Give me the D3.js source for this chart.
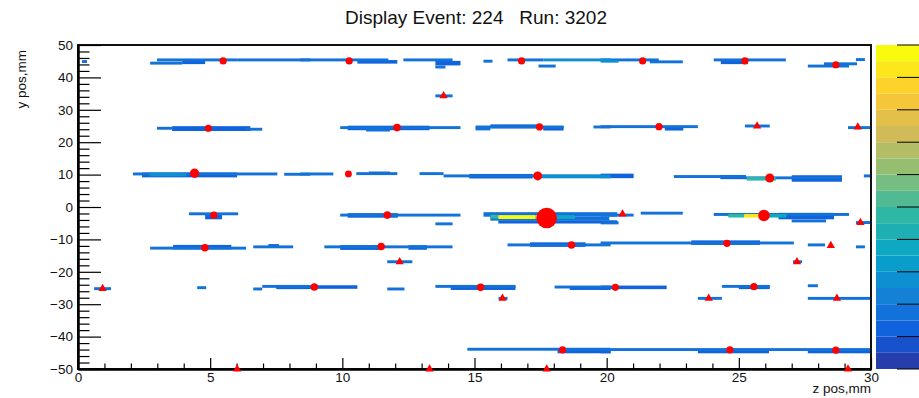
<!DOCTYPE html>
<html>
<head>
<meta charset="utf-8">
<script src="https://cdn.jsdelivr.net/npm/d3@7"></script>
<style>
  html, body { margin: 0; padding: 0; background: #fff; }
  svg { display: block; font-family: "Liberation Sans", Arial, Helvetica, sans-serif; }
</style>
</head>
<body>
<svg id="display" width="919" height="398"></svg>
<script>
// ---- Event content -------------------------------------------------------
// Strip hits per detector row: [zStart mm, zEnd mm, y mm, height mm, amplitude]
const stripsY45 = [
  [0.15, 0.34, 44.9, 0.9, 35], [2.73, 3.94, 44.4, 0.9, 35], [2.99, 6.02, 45.4, 0.9, 35],
  [3.94, 4.81, 44.8, 1.4, 28], [6.02, 8.79, 45.4, 0.9, 35], [8.41, 11.74, 45.4, 0.9, 35],
  [10.57, 12.08, 44.8, 1.1, 28], [12.31, 14.17, 45.4, 0.9, 35], [13.52, 14.47, 44.4, 1.4, 28],
  [13.52, 13.9, 43.2, 0.9, 35], [15.34, 15.68, 45.0, 0.9, 35], [16.25, 17.6, 45.4, 0.9, 35],
  [17.6, 20.15, 45.4, 0.9, 55], [17.42, 18.07, 43.5, 0.9, 35], [19.77, 21.97, 45.4, 0.9, 35],
  [19.77, 20.45, 45.0, 0.9, 55], [21.63, 22.88, 44.8, 0.9, 35], [24.05, 26.78, 45.4, 0.9, 35],
  [24.32, 25.34, 44.8, 1.4, 28], [27.61, 29.17, 43.5, 0.9, 35], [28.22, 29.47, 44.2, 0.9, 35],
  [29.43, 29.77, 45.5, 0.9, 35]
];
const stripsY34 = [
  [13.52, 14.17, 34.3, 0.9, 35]
];
const stripsY24 = [
  [2.99, 3.56, 24.3, 0.9, 35], [3.56, 6.52, 24.2, 1.5, 28], [6.33, 6.97, 24.0, 0.9, 35],
  [9.92, 14.47, 24.5, 0.9, 35], [10.2, 13.3, 24.4, 1.4, 28], [10.9, 11.8, 23.8, 1.0, 35],
  [15.04, 18.37, 24.7, 0.9, 35], [15.04, 15.6, 24.1, 0.9, 35], [15.6, 17.5, 24.9, 1.2, 28],
  [17.6, 18.37, 24.3, 1.4, 28], [19.5, 20.15, 24.7, 0.9, 35], [19.77, 23.45, 24.8, 0.9, 35],
  [22.2, 22.9, 24.3, 1.4, 28], [25.23, 26.17, 25.0, 0.9, 35], [29.13, 30.0, 24.5, 0.9, 35]
];
const stripsY10 = [
  [2.08, 7.54, 10.2, 0.9, 35], [2.42, 6.02, 9.9, 1.5, 28], [2.7, 4.1, 10.0, 1.1, 55],
  [7.8, 8.79, 10.1, 0.9, 35], [8.41, 9.66, 10.2, 0.9, 35], [10.53, 12.08, 10.3, 0.9, 35],
  [11.0, 11.8, 10.5, 0.9, 28], [12.92, 13.83, 10.3, 0.9, 35], [13.83, 20.15, 9.6, 0.9, 35],
  [14.8, 17.2, 9.5, 1.4, 28], [17.5, 20.15, 9.4, 1.1, 50], [19.77, 21.02, 9.6, 1.4, 28],
  [22.54, 25.27, 9.4, 0.9, 35], [24.3, 25.27, 9.2, 1.2, 28], [25.23, 28.86, 9.0, 0.9, 35],
  [25.3, 26.4, 8.7, 1.1, 90], [27.0, 28.9, 8.8, 2.0, 28], [29.73, 30.0, 9.6, 0.9, 35]
];
const stripsYm3 = [
  [4.2, 6.06, -2.1, 0.9, 35], [4.81, 5.45, -3.1, 1.4, 28], [9.92, 14.47, -2.5, 0.9, 35],
  [10.2, 12.1, -2.6, 1.4, 28], [13.52, 14.17, -5.2, 0.9, 35], [15.34, 20.4, -2.3, 1.4, 30],
  [15.6, 20.1, -3.6, 1.2, 30], [15.9, 20.4, -4.6, 1.0, 28], [15.6, 15.9, -3.0, 1.2, 90],
  [15.9, 17.3, -3.1, 1.2, 195], [17.3, 17.6, -3.1, 1.2, 150], [17.9, 18.8, -3.1, 1.2, 75],
  [19.77, 21.02, -2.5, 0.9, 35], [19.77, 20.45, -4.9, 0.9, 35], [21.29, 22.88, -1.9, 0.9, 35],
  [24.05, 29.17, -2.3, 0.9, 35], [24.6, 25.2, -2.7, 1.1, 90], [25.2, 25.8, -2.7, 1.1, 180],
  [26.1, 26.8, -2.7, 1.1, 70], [26.5, 28.6, -2.8, 2.0, 28], [27.0, 28.3, -4.3, 0.9, 35],
  [29.43, 30.0, -4.8, 0.9, 35]
];
const stripsYm12 = [
  [2.73, 6.36, -12.7, 0.9, 35], [3.6, 5.8, -12.4, 1.4, 28], [6.63, 8.14, -12.3, 0.9, 35],
  [7.2, 7.6, -11.9, 0.9, 28], [9.32, 14.17, -12.3, 0.9, 35], [9.92, 11.4, -12.5, 1.5, 28],
  [12.5, 13.2, -12.5, 1.4, 28], [16.25, 20.15, -11.7, 0.9, 35], [17.1, 19.2, -11.6, 1.4, 28],
  [19.77, 27.08, -11.1, 0.9, 35], [23.2, 25.8, -11.0, 1.4, 28], [27.61, 28.26, -11.7, 0.9, 35],
  [29.43, 29.77, -12.3, 0.9, 35]
];
const stripsYm17 = [
  [11.7, 12.65, -16.9, 0.9, 35], [27.05, 27.39, -16.9, 0.9, 35]
];
const stripsYm25 = [
  [0.61, 1.25, -25.2, 0.9, 35], [4.51, 4.85, -24.9, 0.9, 35], [6.63, 6.97, -25.3, 0.9, 35],
  [6.97, 8.79, -24.5, 0.9, 35], [7.5, 8.79, -24.9, 0.9, 28], [8.41, 10.57, -24.7, 1.1, 28],
  [11.7, 12.35, -25.3, 0.9, 35], [13.52, 16.55, -24.5, 0.9, 35], [14.1, 16.55, -24.9, 1.4, 28],
  [18.03, 20.15, -24.7, 0.9, 35], [18.6, 20.15, -25.0, 1.2, 28], [19.77, 22.27, -24.8, 1.1, 28],
  [24.36, 26.17, -24.5, 0.9, 35], [25.0, 26.17, -24.8, 1.1, 28], [27.61, 27.99, -24.3, 0.9, 35]
];
const stripsYm28 = [
  [15.91, 16.25, -28.2, 0.9, 35], [23.45, 24.36, -28.2, 0.9, 35], [27.61, 30.0, -28.2, 0.9, 35]
];
const stripsYm44 = [
  [14.73, 20.15, -43.9, 0.9, 35], [18.14, 20.15, -44.6, 1.1, 28], [19.77, 30.0, -44.0, 0.9, 35],
  [19.77, 20.15, -44.6, 1.1, 28], [23.45, 26.14, -44.6, 1.1, 28], [27.61, 30.0, -44.6, 1.1, 28]
];

// Reconstructed clusters (red dots, size by charge)
const clusterZ = [5.49, 10.26, 16.78, 21.36, 25.23, 28.67, 4.93, 12.07, 17.46, 21.98,
                  4.41, 10.23, 17.39, 26.17, 5.14, 11.70, 17.73, 25.95, 4.80, 11.47, 18.67, 24.55,
                  8.94, 15.23, 20.33, 25.57, 18.33, 24.66, 28.67];
const clusterY = [45.1, 45.1, 45.1, 45.1, 45.1, 43.9, 24.3, 24.5, 24.7, 24.8,
                  10.4, 10.2, 9.6, 8.95, -2.5, -2.5, -3.4, -2.6, -12.6, -12.2, -11.7, -11.2,
                  -24.7, -24.8, -24.8, -24.6, -44.1, -44.1, -44.2];
const clusterQ = [1, 1, 1, 1, 1, 1, 1, 1.05, 1, 1,
                  1.3, 0.95, 1.25, 1.25, 1, 1.05, 2.85, 1.6, 1.05, 1.05, 1.05, 1,
                  1.05, 1.05, 1, 1, 1, 1, 1];

// Single-strip candidates (red triangles)
const triZ = [13.83, 25.69, 29.5, 20.6, 29.6, 28.48, 12.17, 27.2, 0.93, 16.06, 23.86, 28.71, 6.02, 13.3, 17.73, 29.13];
const triY = [34.3, 25.0, 24.7, -2.2, -4.8, -11.9, -16.9, -16.9, -25.2, -28.2, -28.2, -28.2, -50, -50, -50, -50];

const zTicks = [0, 5, 10, 15, 20, 25, 30];
const yTicks = [-50, -40, -30, -20, -10, 0, 10, 20, 30, 40, 50];
const titleText = "Display Event: 224   Run: 3202";

// ---- Layout --------------------------------------------------------------
const svg = d3.select("#display");
const frame = { left: 78, right: 871, top: 45, bottom: 369 };
const zScale = d3.scaleLinear().domain([0, 30]).range([frame.left, frame.right]);
const yScale = d3.scaleLinear().domain([-50, 50]).range([frame.bottom, frame.top]);

// Bird-style palette, 20 contour bands
const bird = d3.scaleLinear()
  .domain([0, 0.125, 0.25, 0.375, 0.5, 0.625, 0.75, 0.875, 1])
  .range(["#352a87", "#0f5cdd", "#1481d6", "#06a4ca", "#2eb7a4", "#87bf77", "#d1bb59", "#fec832", "#f9fb0e"])
  .interpolate(d3.interpolateRgb);
const nBands = 20, ampMax = 200;
const bandOf = a => Math.max(0, Math.min(nBands - 1, Math.floor(a / (ampMax / nBands))));
const bandColor = b => bird((b + 1) / nBands);

// ---- Palette bar -----------------------------------------------------------
const palScale = d3.scaleLinear().domain([0, ampMax]).range([frame.bottom, frame.top]);
const bandIdx = d3.range(nBands);
svg.append("g").selectAll("rect").data(bandIdx).join("rect")
  .attr("x", 876).attr("width", 50)
  .attr("y", b => palScale((b + 1) * ampMax / nBands))
  .attr("height", b => palScale(b * ampMax / nBands) - palScale((b + 1) * ampMax / nBands))
  .attr("fill", b => bandColor(b));
svg.append("g").selectAll("line").data(d3.range(0, ampMax + 1, ampMax / 10)).join("line")
  .attr("x1", 897).attr("x2", 925)
  .attr("y1", v => palScale(v)).attr("y2", v => palScale(v))
  .attr("stroke", "#000").attr("stroke-width", 1);

// ---- Strip hits --------------------------------------------------------------
svg.append("clipPath").attr("id", "plotClip").append("rect")
  .attr("x", frame.left).attr("y", frame.top)
  .attr("width", frame.right - frame.left).attr("height", frame.bottom - frame.top);

const allStrips = [].concat(stripsY45, stripsY34, stripsY24, stripsY10, stripsYm3,
  stripsYm12, stripsYm17, stripsYm25, stripsYm28, stripsYm44);
// draw low amplitudes first so hot cells sit on top
const ordered = allStrips.slice().sort((a, b) => a[4] - b[4]);
svg.append("g").attr("clip-path", "url(#plotClip)")
  .selectAll("rect").data(ordered).join("rect")
  .attr("x", d => zScale(d[0]))
  .attr("width", d => zScale(d[1]) - zScale(d[0]))
  .attr("y", d => yScale(d[2] + d[3] / 2))
  .attr("height", d => yScale(d[2] - d[3] / 2) - yScale(d[2] + d[3] / 2))
  .attr("fill", d => bandColor(bandOf(d[4])));

// ---- Frame and axes ----------------------------------------------------------
svg.append("rect")
  .attr("x", frame.left).attr("y", frame.top)
  .attr("width", frame.right - frame.left).attr("height", frame.bottom - frame.top)
  .attr("fill", "none").attr("stroke", "#111").attr("stroke-width", 2);

const plain = d3.format("");
const xAxis = d3.axisBottom(zScale).tickValues(zTicks).tickSizeInner(-11).tickSizeOuter(0)
  .tickPadding(3).tickFormat(plain);
const xMinor = d3.axisBottom(zScale).tickValues(d3.range(0, 31, 1).filter(v => v % 5 !== 0))
  .tickSizeInner(-5.5).tickSizeOuter(0).tickFormat("");
const yAxis = d3.axisLeft(yScale).tickValues(yTicks).tickSizeInner(-23).tickSizeOuter(0)
  .tickPadding(5).tickFormat(plain);
const yMinor = d3.axisLeft(yScale).tickValues(d3.range(-50, 51, 2).filter(v => v % 10 !== 0))
  .tickSizeInner(-11.5).tickSizeOuter(0).tickFormat("");

function styleAxis(g) {
  g.select(".domain").attr("stroke", "#000").attr("stroke-width", 2);
  g.selectAll(".tick line").attr("stroke", "#000").attr("stroke-width", 1.2);
  g.selectAll(".tick text").attr("fill", "#111").attr("font-size", 13.5)
    .attr("font-family", "'Liberation Sans', Arial, sans-serif");
}
svg.append("g").attr("transform", `translate(0,${frame.bottom})`).call(xMinor).call(styleAxis);
svg.append("g").attr("transform", `translate(0,${frame.bottom})`).call(xAxis).call(styleAxis);
svg.append("g").attr("transform", `translate(${frame.left},0)`).call(yMinor).call(styleAxis);
svg.append("g").attr("transform", `translate(${frame.left},0)`).call(yAxis).call(styleAxis);

// Axis titles and event title
svg.append("text").attr("x", frame.right).attr("y", 393)
  .attr("text-anchor", "end").attr("font-size", 13.5).attr("fill", "#111")
  .text("z pos,mm");
svg.append("text").attr("transform", `translate(25.5,${frame.top + 5}) rotate(-90)`)
  .attr("text-anchor", "end").attr("font-size", 13.5).attr("fill", "#111")
  .text("y pos,mm");
svg.append("text").attr("x", 476).attr("y", 24)
  .attr("text-anchor", "middle").attr("font-size", 19).attr("fill", "#111")
  .style("white-space", "pre")
  .text(titleText);

// ---- Markers -----------------------------------------------------------------
const rScale = d3.scaleLinear().domain([0, 1]).range([0, 3.6]);
svg.append("g").selectAll("circle").data(d3.range(clusterZ.length)).join("circle")
  .attr("cx", i => zScale(clusterZ[i]))
  .attr("cy", i => yScale(clusterY[i]))
  .attr("r", i => rScale(clusterQ[i]))
  .attr("fill", "#ff0000");

const tri = d3.symbol().type(d3.symbolTriangle).size(30);
svg.append("g").selectAll("path").data(d3.range(triZ.length)).join("path")
  .attr("transform", i => `translate(${zScale(triZ[i])},${yScale(triY[i])})`)
  .attr("d", tri)
  .attr("fill", "#ff0000");
</script>
</body>
</html>
